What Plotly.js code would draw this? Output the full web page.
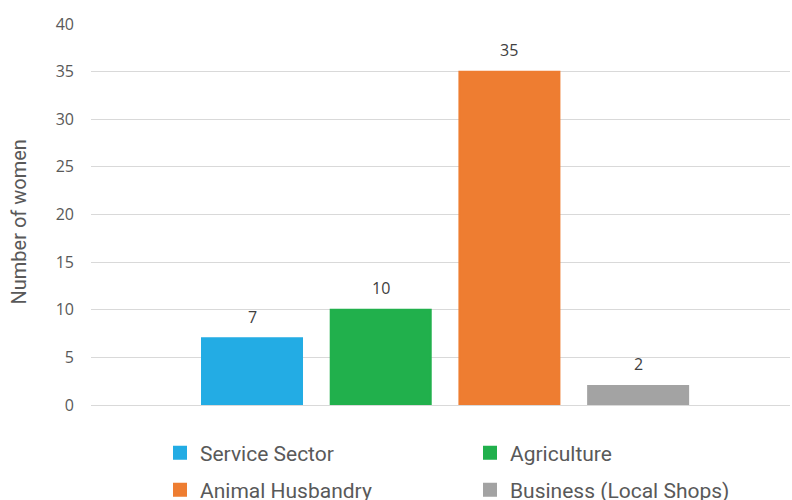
<!DOCTYPE html>
<html>
<head>
<meta charset="utf-8">
<script src="https://cdn.plot.ly/plotly-3.0.1.min.js"></script>
<style>html,body{margin:0;padding:0;background:#fff;}#chart{width:792px;height:500px;}</style>
</head>
<body>
<div id="chart"></div>
<script>
var categories = ["Service Sector", "Agriculture", "Animal Husbandry", "Business (Local Shops)"];
var values = [7, 10, 35, 2];
var colors = ["#23ACE4", "#21B04C", "#EE7D31", "#A3A3A3"];
var legendIds = ["legend", "legend2", "legend3", "legend4"];
var yTickVals = [0, 5, 10, 15, 20, 25, 30, 35, 40];
var yTitle = "Number of women";

var traces = categories.map(function (c, i) {
  return {
    type: "bar",
    name: c,
    x: [c],
    y: [values[i]],
    marker: {color: colors[i], line: {color: colors[i], width: 2}},
    legend: legendIds[i],
    hoverinfo: "none"
  };
});

var annotations = categories.map(function (c, i) {
  return {
    x: c, y: values[i], xref: "x", yref: "y",
    text: String(values[i]), showarrow: false,
    yanchor: "middle", yshift: 21.5,
    font: {family: "Open Sans", size: 16, color: "#404040"}
  };
});
annotations.push({
  xref: "paper", yref: "paper",
  x: -73 / 699, y: (405 - 222.5) / 381,
  xanchor: "center", yanchor: "middle",
  text: yTitle, textangle: -90, showarrow: false,
  font: {family: "Roboto", size: 20, color: "#595959"}
});

var legendFont = {family: "Roboto", size: 21, color: "#595959"};
var legendX = [160, 470, 160, 470];
var legendY = [453, 453, 490, 490];

var layout = {
  width: 792, height: 500,
  margin: {l: 91, r: 2, t: 24, b: 95, autoexpand: false},
  paper_bgcolor: "#fff", plot_bgcolor: "#fff",
  barmode: "overlay",
  bargap: 0.223,
  showlegend: true,
  xaxis: {
    type: "category",
    categoryorder: "array", categoryarray: categories,
    range: [-1.251, 4.18],
    showticklabels: false, showgrid: false, zeroline: false, showline: false, ticks: "",
    fixedrange: true
  },
  yaxis: {
    range: [0, 40],
    tickvals: yTickVals,
    showgrid: true, gridcolor: "#D9D9D9", gridwidth: 1,
    zeroline: true, zerolinecolor: "#D9D9D9", zerolinewidth: 1,
    showline: false, ticks: "",
    ticklabelstandoff: 16,
    tickfont: {family: "Open Sans", size: 16, color: "#595959"},
    automargin: false
  },
  annotations: annotations
};

legendIds.forEach(function (id, i) {
  layout[id] = {
    orientation: "h", xref: "container", yref: "container",
    x: legendX[i] / 792, xanchor: "left", y: 1 - legendY[i] / 500, yanchor: "middle",
    font: legendFont, bgcolor: "rgba(0,0,0,0)"
  };
});

Plotly.newPlot("chart", traces, layout, {staticPlot: true, displayModeBar: false});
</script>
</body>
</html>
